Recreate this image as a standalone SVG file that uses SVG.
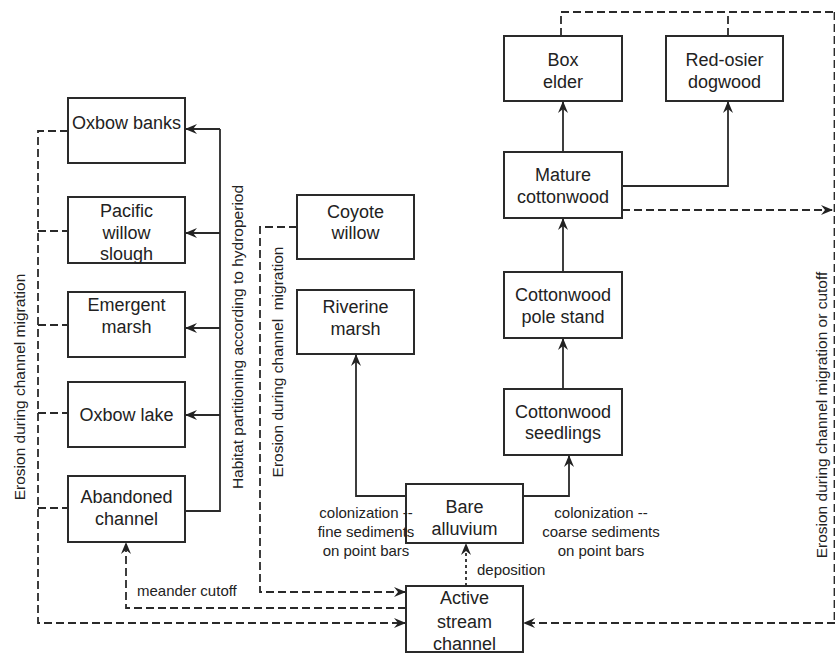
<svg xmlns="http://www.w3.org/2000/svg" width="835" height="654" viewBox="0 0 835 654">
<defs>
<marker id="ah" viewBox="0 0 12 10" refX="11" refY="5" markerWidth="12" markerHeight="10" markerUnits="userSpaceOnUse" orient="auto">
<path d="M0,0 L12,5 L0,10 L4,5 z" fill="#222"/>
</marker>
<style>
.box{fill:#fff;stroke:#2a2a2a;stroke-width:2}
.t{font-family:"Liberation Sans",Arial,sans-serif;font-size:18px;fill:#222;text-anchor:middle}
.l{font-family:"Liberation Sans",Arial,sans-serif;font-size:15px;fill:#222}
.r{font-family:"Liberation Sans",Arial,sans-serif;font-size:15.5px;fill:#222;text-anchor:middle}
.s{fill:none;stroke:#2a2a2a;stroke-width:1.8}
.d{fill:none;stroke:#2a2a2a;stroke-width:1.8;stroke-dasharray:8 4}
.dot{fill:none;stroke:#2a2a2a;stroke-width:1.8;stroke-dasharray:3 3}
</style>
</defs>
<rect width="835" height="654" fill="#fff"/>
<g id="connectors">
<path class="s" d="M220,129 V511 H185"/>
<path class="s" d="M220,129 H186" marker-end="url(#ah)"/>
<path class="s" d="M220,233 H186" marker-end="url(#ah)"/>
<path class="s" d="M220,328 H186" marker-end="url(#ah)"/>
<path class="s" d="M220,415 H186" marker-end="url(#ah)"/>
<path class="d" d="M68,131 H38 V623 H405" marker-end="url(#ah)"/>
<path class="d" d="M38,231 H68 M38,325 H68 M38,413 H68 M38,508 H68"/>
<path class="d" d="M406,608 H126 V543" marker-end="url(#ah)"/>
<path class="d" d="M297,227 H260 V592 H405" marker-end="url(#ah)"/>
<path class="s" d="M406,496 H356 V355" marker-end="url(#ah)"/>
<path class="s" d="M523,496 H569 V456" marker-end="url(#ah)"/>
<path class="dot" d="M466,586 V544" marker-end="url(#ah)"/>
<path class="s" d="M563,389 V339" marker-end="url(#ah)"/>
<path class="s" d="M563,272 V219" marker-end="url(#ah)"/>
<path class="s" d="M563,152 V102" marker-end="url(#ah)"/>
<path class="s" d="M622,186 H728 V102" marker-end="url(#ah)"/>
<path class="d" d="M622,210 H832" marker-end="url(#ah)"/>
<path class="d" d="M561,36 V12 H835 M728,36 V12"/>
<path class="d" d="M834.5,12 V623" stroke-width="1.2"/>
<path class="d" d="M835,623 H524" marker-end="url(#ah)"/>
</g>
<g id="oxbow-banks"><rect class="box" x="68" y="98" width="117" height="65"/><text class="t" x="126.5" y="129">Oxbow banks</text></g>
<g id="pacific-willow-slough"><rect class="box" x="68" y="197" width="117" height="66"/><text class="t" x="126.5" y="217">Pacific</text><text class="t" x="126.5" y="239">willow</text><text class="t" x="126.5" y="260">slough</text></g>
<g id="emergent-marsh"><rect class="box" x="68" y="292" width="117" height="65"/><text class="t" x="126.5" y="311">Emergent</text><text class="t" x="126.5" y="333">marsh</text></g>
<g id="oxbow-lake"><rect class="box" x="68" y="382" width="117" height="65"/><text class="t" x="126.5" y="421">Oxbow lake</text></g>
<g id="abandoned-channel"><rect class="box" x="68" y="476" width="117" height="66"/><text class="t" x="126.5" y="503">Abandoned</text><text class="t" x="126.5" y="525">channel</text></g>
<g id="coyote-willow"><rect class="box" x="297" y="195" width="117" height="64"/><text class="t" x="355.5" y="218">Coyote</text><text class="t" x="355.5" y="239">willow</text></g>
<g id="riverine-marsh"><rect class="box" x="297" y="290" width="117" height="64"/><text class="t" x="355.5" y="313">Riverine</text><text class="t" x="355.5" y="335">marsh</text></g>
<g id="bare-alluvium"><rect class="box" x="406" y="484" width="117" height="59"/><text class="t" x="464.5" y="513">Bare</text><text class="t" x="464.5" y="535">alluvium</text></g>
<g id="active-stream-channel"><rect class="box" x="406" y="586" width="117" height="66"/><text class="t" x="464.5" y="604">Active</text><text class="t" x="464.5" y="628">stream</text><text class="t" x="464.5" y="650">channel</text></g>
<g id="box-elder"><rect class="box" x="504" y="36" width="118" height="65"/><text class="t" x="563" y="66">Box</text><text class="t" x="563" y="88">elder</text></g>
<g id="red-osier-dogwood"><rect class="box" x="666" y="36" width="117" height="65"/><text class="t" x="724.5" y="66">Red-osier</text><text class="t" x="724.5" y="88">dogwood</text></g>
<g id="mature-cottonwood"><rect class="box" x="504" y="152" width="118" height="66"/><text class="t" x="563" y="181">Mature</text><text class="t" x="563" y="203">cottonwood</text></g>
<g id="cottonwood-pole-stand"><rect class="box" x="504" y="272" width="118" height="66"/><text class="t" x="563" y="301">Cottonwood</text><text class="t" x="563" y="323">pole stand</text></g>
<g id="cottonwood-seedlings"><rect class="box" x="504" y="389" width="118" height="66"/><text class="t" x="563" y="418">Cottonwood</text><text class="t" x="563" y="439">seedlings</text></g>
<g id="labels">
<text class="l" text-anchor="middle" x="366" y="518">colonization --</text>
<text class="l" text-anchor="middle" x="366" y="537">fine sediments</text>
<text class="l" text-anchor="middle" x="366" y="556">on point bars</text>
<text class="l" text-anchor="middle" x="601" y="518">colonization --</text>
<text class="l" text-anchor="middle" x="601" y="537">coarse sediments</text>
<text class="l" text-anchor="middle" x="601" y="556">on point bars</text>
<text class="l" x="477" y="575">deposition</text>
<text class="l" x="137" y="596">meander cutoff</text>
<text class="r" transform="translate(25,387) rotate(-90)">Erosion during channel migration</text>
<text class="r" transform="translate(243,337) rotate(-90)">Habitat partitioning according to hydroperiod</text>
<text class="r" transform="translate(283,362) rotate(-90)" xml:space="preserve">Erosion during channel  migration</text>
<text class="r" transform="translate(827,415) rotate(-90)">Erosion during channel migration or cutoff</text>
</g>
</svg>
